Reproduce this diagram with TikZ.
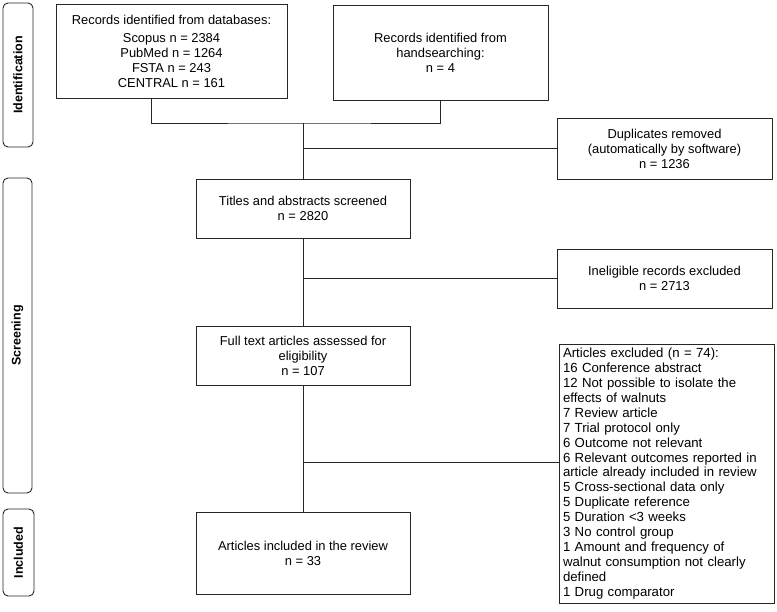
\documentclass[tikz,border=0pt]{standalone}
\usepackage{fontspec}
\setmainfont{Liberation Sans}
\usetikzlibrary{positioning}

\begin{document}
\begin{tikzpicture}[x=1pt, y=-1pt, line width=0.9pt, draw=black!85,
    box/.style={rectangle, draw, inner sep=4pt, align=center,
      font=\fontsize{12.9}{15}\selectfont},
    exclbox/.style={rectangle, draw, inner sep=4pt, align=left,
      font=\fontsize{13.2}{14.9}\selectfont},
    phase/.style={rectangle, draw, rounded corners=5pt, rotate=90,
      font=\bfseries\fontsize{12.5}{15}\selectfont}]
  \useasboundingbox (0,0) rectangle (777,612);
  % phase labels
  \node[phase, minimum width=144, minimum height=30] (ident) at (18,75) {Identification};
  \node[phase, minimum width=315, minimum height=29] (scr) at (17.5,335.5) {Screening};
  \node[phase, minimum width=87, minimum height=31] (inc) at (18.5,552.5) {Included};
  % boxes
  \node[box, minimum width=231, minimum height=94] (db) at (171.5,51)
    {Records identified from databases:\\[3pt] Scopus n = 2384\\ PubMed n = 1264\\ FSTA n = 243\\ CENTRAL n = 161};
  \node[box, minimum width=215, minimum height=95] (hand) at (440.5,52.5)
    {Records identified from\\ handsearching:\\ n = 4};
  \node[box, minimum width=215, minimum height=61] (dup) at (664.5,148.5)
    {Duplicates removed\\ (automatically by software)\\ n = 1236};
  \node[box, minimum width=214, minimum height=59] (titles) at (303,208.5)
    {Titles and abstracts screened\\ n = 2820};
  \node[box, minimum width=215, minimum height=59] (inel) at (664.5,278.5)
    {Ineligible records excluded\\ n = 2713};
  \node[box, minimum width=214, minimum height=59] (full) at (303,355.5)
    {Full text articles assessed for\\ eligibility\\ n = 107};
  \node[exclbox, minimum width=215, minimum height=259, text width=207] (excl) at (666.5,473.5)
    {Articles excluded (n = 74):\\ 16 Conference abstract\\ 12 Not possible to isolate the\\ effects of walnuts\\
     7 Review article\\ 7 Trial protocol only\\ 6 Outcome not relevant\\ 6 Relevant outcomes reported in\\
     article already included in review\\ 5 Cross-sectional data only\\ 5 Duplicate reference\\
     5 Duration <3 weeks\\ 3 No control group\\ 1 Amount and frequency of\\
     walnut consumption not clearly\\ defined\\ 1 Drug comparator};
  \node[box, minimum width=214, minimum height=82] (incl) at (303,553)
    {Articles included in the review\\ n = 33};
  % connectors
  \coordinate (dbout) at (151,98);
  \coordinate (join) at (303,123);
  \draw (dbout) |- (join) -| (hand.south);
  \draw (join) -- (titles.north);
  \draw (titles.north |- dup.west) -- (dup.west);
  \draw (titles.south) -- (full.north);
  \draw (titles.south |- inel.west) -- (inel.west);
  \draw (full.south) -- (incl.north);
  \draw (full.south |- excl.west) ++(0,-11.5) -- ([yshift=11.5pt]excl.west);
\end{tikzpicture}
\end{document}
